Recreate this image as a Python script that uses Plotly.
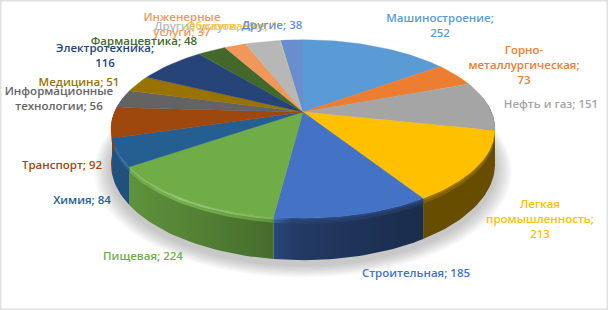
import math
import plotly.graph_objects as go

# ---- data ----
categories = ["Машиностроение", "Горно-металлургическая", "Нефть и газ", "Легкая промышленность",
              "Строительная", "Пищевая", "Химия", "Транспорт", "Информационные технологии",
              "Медицина", "Электротехника", "Фармацевтика", "Инженерные услуги",
              "Другие услуги", "Образование", "Другие"]
values = [252, 73, 151, 213, 185, 224, 84, 92, 56, 51, 116, 48, 37, 59, 1, 38]
colors = ["#5b9bd5", "#ed7d31", "#a5a5a5", "#ffc000", "#4472c4", "#70ad47", "#255e91", "#9e480e",
          "#636363", "#997300", "#264478", "#43682b", "#f1975a", "#b7b7b7", "#ffcd33", "#698ed0"]
label_text = ["Машиностроение;<br>252", "Горно-<br>металлургическая;<br>73", "Нефть и газ; 151",
              "Легкая<br>промышленность;<br>213", "Строительная; 185", "Пищевая; 224", "Химия; 84",
              "Транспорт; 92", "Информационные<br>технологии; 56", "Медицина; 51",
              "Электротехника;<br>116", "Фармацевтика; 48", "Инженерные<br>услуги; 37",
              "Другие услуги; 59", "Образование; 1", "Другие; 38"]
label_x = [440, 524, 551, 540, 416, 143, 82, 62, 59, 79, 105, 144, 182, 205, 232, 272]
label_y = [27, 66, 105, 220, 274, 257, 201, 166, 100, 83, 57, 42, 26, 27, 27, 26]

# ---- projection of the tilted disc ----
CX, CY, RX, RY, K, H = 303, 112, 188.5, 86.0, 0.19, 34.0


def project(theta, z=0.0, scale=1.0):
    u, v = math.sin(theta) * scale, -math.cos(theta) * scale
    w = 1 - K * v
    return CX + RX * u / w, CY + (RY * v + z) / w


def blend(hex_color, f):
    rgb = [int(hex_color[i:i + 2], 16) for i in (1, 3, 5)]
    if f <= 1:
        out = [c * f for c in rgb]
    else:
        out = [c + (255 - c) * (f - 1) for c in rgb]
    return "rgb(%d,%d,%d)" % tuple(round(c) for c in out)


def side_factor(t):
    if t < 0.44:
        return 0.88 - 0.6 * t
    return max(0.40, 0.53 - 0.4 * (t - 0.44))


def rim_factor(t):
    if t < 0.44:
        return 1.0 + 0.3 * (1 - abs(t - 0.2) / 0.3) if abs(t - 0.2) < 0.3 else 1.0
    return 0.62


def band(a0, a1, z0, z1, col, fn):
    """One wall polygon for an arc, filled with a horizontal gradient from fn(t)."""
    n = max(2, int((a1 - a0) / math.radians(1.5)))
    ang = [a0 + (a1 - a0) * j / n for j in range(n + 1)]
    top = [project(a, z0) for a in ang]
    bot = [project(a, z1) for a in reversed(ang)]
    xs = [p[0] for p in top + bot]
    ys = [p[1] for p in top + bot]
    xmin, xmax = min(xs), max(xs)
    m = 8
    scale = []
    for j in range(m + 1):
        x = xmin + (xmax - xmin) * j / m
        scale.append([j / m, blend(col, fn((x - 110) / 387))])
    return go.Scatter(x=xs + xs[:1], y=ys + ys[:1], mode="lines", fill="toself",
                      fillgradient=dict(type="horizontal", colorscale=scale),
                      line=dict(width=0), hoverinfo="skip", showlegend=False)


fig = go.Figure()

# soft shadow under the pie
for i in range(10):
    s = 1.085 - i * 0.0085
    th = [math.radians(a) for a in range(0, 361, 4)]
    pts = [project(a, H + 4, s) for a in th]
    fig.add_trace(go.Scatter(x=[p[0] for p in pts], y=[p[1] for p in pts], mode="lines",
                             fill="toself", fillcolor="rgba(90,90,90,0.035)",
                             line=dict(width=0), hoverinfo="skip", showlegend=False))

total = sum(values)
edges = [0.0]
for val in values:
    edges.append(edges[-1] + val / total * 2 * math.pi)

LIMIT = math.radians(80)  # back part of the wall stays hidden
for i, col in enumerate(colors):
    a0 = max(edges[i], LIMIT)
    a1 = min(edges[i + 1], 2 * math.pi - LIMIT)
    if a1 <= a0:
        continue
    fig.add_trace(band(a0, a1, 0, H, col, side_factor))
    fig.add_trace(band(a0, a1, 2.0, 4.5, col, lambda t: (rim_factor(t) + side_factor(t)) / 2))
    fig.add_trace(band(a0, a1, 0, 2.0, col, rim_factor))

# top faces
for i, col in enumerate(colors):
    a0, a1 = edges[i], edges[i + 1]
    n = max(2, int((a1 - a0) / math.radians(1.5)))
    pts = [project(a0 + (a1 - a0) * j / n) for j in range(n + 1)]
    xs = [CX] + [p[0] for p in pts] + [CX]
    ys = [CY] + [p[1] for p in pts] + [CY]
    fig.add_trace(go.Scatter(x=xs, y=ys, mode="lines", fill="toself", fillcolor=col,
                             line=dict(color=col, width=0.3), hoverinfo="skip", showlegend=False))

# labels
fig.add_trace(go.Scatter(x=label_x, y=label_y, mode="text", text=label_text, textposition="middle center",
                         textfont=dict(family="Open Sans", size=11.5, color=colors, weight=600),
                         hoverinfo="skip", showlegend=False))

fig.update_layout(
    width=608, height=310, margin=dict(l=0, r=0, t=0, b=0),
    paper_bgcolor="white", plot_bgcolor="white",
    xaxis=dict(range=[0, 608], visible=False, fixedrange=True),
    yaxis=dict(range=[310, 0], visible=False, fixedrange=True),
    shapes=[dict(type="rect", xref="paper", yref="paper", x0=0, y0=0, x1=1, y1=1,
                 line=dict(color="#e0e0e0", width=3))],
)
fig.write_html("out.html", config=dict(displayModeBar=False),
               post_script="document.body.style.margin='0';document.documentElement.style.overflow='hidden';")
